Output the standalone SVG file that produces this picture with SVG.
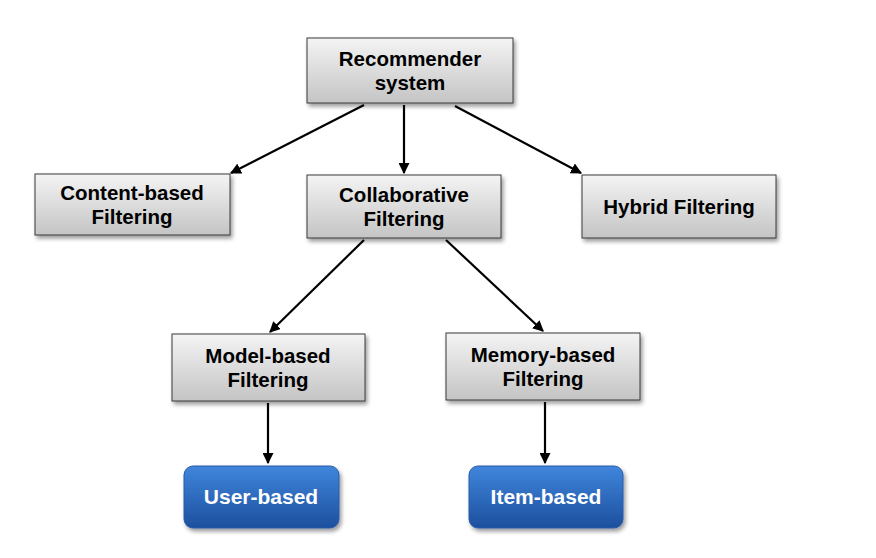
<svg xmlns="http://www.w3.org/2000/svg" width="876" height="558" viewBox="0 0 876 558">
<defs>
<linearGradient id="gray" x1="0" y1="0" x2="0" y2="1">
<stop offset="0" stop-color="#f4f4f4"/>
<stop offset="1" stop-color="#c4c4c4"/>
</linearGradient>
<linearGradient id="blue" x1="0" y1="0" x2="0" y2="1">
<stop offset="0" stop-color="#3f86dc"/>
<stop offset="1" stop-color="#1d4f9e"/>
</linearGradient>
<filter id="sh" x="-10%" y="-10%" width="130%" height="140%">
<feGaussianBlur in="SourceAlpha" stdDeviation="2"/>
<feOffset dx="2" dy="3"/>
<feComponentTransfer><feFuncA type="linear" slope="0.4"/></feComponentTransfer>
<feMerge><feMergeNode/><feMergeNode in="SourceGraphic"/></feMerge>
</filter>
<marker id="arr" viewBox="0 0 10 10" refX="9" refY="5" markerWidth="5" markerHeight="5" orient="auto" markerUnits="strokeWidth">
<path d="M0,0 L10,5 L0,10 z" fill="#000"/>
</marker>
</defs>
<style>
.box{fill:url(#gray);stroke:#3a3a3a;stroke-width:1;filter:url(#sh)}
.bbox{fill:url(#blue);stroke:#2a5aa8;stroke-width:1;filter:url(#sh)}
.t{font-family:"Liberation Sans",Arial,sans-serif;font-weight:bold;font-size:20.5px;fill:#000;text-anchor:middle}
.w{fill:#fff;font-size:21px}
.c{stroke:#000;stroke-width:2.2;fill:none;marker-end:url(#arr)}
</style>
<rect width="876" height="558" fill="#fff"/>
<g id="connectors">
<line class="c" x1="364" y1="105" x2="231" y2="173"/>
<line class="c" x1="404" y1="105" x2="404" y2="173"/>
<line class="c" x1="455" y1="106" x2="581" y2="173"/>
<line class="c" x1="364" y1="240" x2="270" y2="332"/>
<line class="c" x1="446" y1="240" x2="543" y2="331"/>
<line class="c" x1="268" y1="403" x2="268" y2="463"/>
<line class="c" x1="545" y1="402" x2="545" y2="463"/>
</g>
<g id="recommender">
<rect class="box" x="307" y="38" width="206" height="65"/>
<text class="t" x="410" y="66">Recommender</text>
<text class="t" x="410" y="90">system</text>
</g>
<g id="content">
<rect class="box" x="35" y="174" width="195" height="61"/>
<text class="t" x="132" y="200">Content-based</text>
<text class="t" x="132" y="224">Filtering</text>
</g>
<g id="collaborative">
<rect class="box" x="307" y="175" width="194" height="63"/>
<text class="t" x="404" y="202">Collaborative</text>
<text class="t" x="404" y="226">Filtering</text>
</g>
<g id="hybrid">
<rect class="box" x="582" y="175" width="194" height="63"/>
<text class="t" x="679" y="214">Hybrid Filtering</text>
</g>
<g id="model">
<rect class="box" x="172" y="334" width="193" height="67"/>
<text class="t" x="268" y="363">Model-based</text>
<text class="t" x="268" y="387">Filtering</text>
</g>
<g id="memory">
<rect class="box" x="446" y="333" width="194" height="67"/>
<text class="t" x="543" y="362">Memory-based</text>
<text class="t" x="543" y="386">Filtering</text>
</g>
<g id="user">
<rect class="bbox" x="184" y="466" width="155" height="62" rx="9"/>
<text class="t w" x="261" y="504">User-based</text>
</g>
<g id="item">
<rect class="bbox" x="469" y="466" width="154" height="62" rx="9"/>
<text class="t w" x="546" y="504">Item-based</text>
</g>
</svg>
